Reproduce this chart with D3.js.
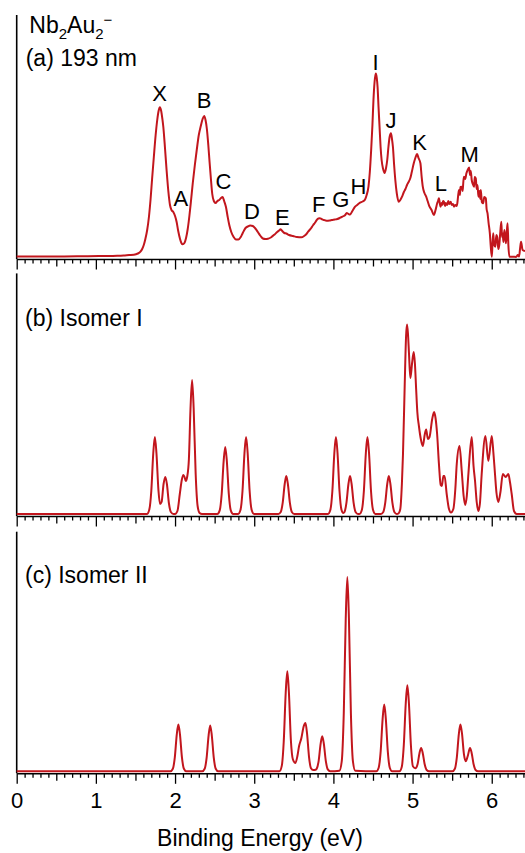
<!DOCTYPE html>
<html>
<head>
<meta charset="utf-8">
<script src="https://cdn.jsdelivr.net/npm/d3@7"></script>
<style>
  html, body { margin: 0; padding: 0; background: #fff; }
  svg { display: block; font-family: "Liberation Sans", Arial, Helvetica, sans-serif; }
  .domain { stroke: #000; stroke-width: 1.6; }
  .tick line { stroke: #000; stroke-width: 1.3; }
  .tick text { font-size: 22px; fill: #000; }
</style>
</head>
<body>
<div id="chart"></div>
<script>
// ===== Config =====
const WIDTH = 525, HEIGHT = 853;
const RED = "#c2161d";

// ===== Data (binding energy eV, intensity arb. units) =====
// (a) measured photoelectron spectrum, 193 nm
const expt = [
  [0,0.4],[0.3,0.4],[0.6,0.6],[0.9,0.8],[1.1,1],[1.27,1.3],[1.35,1.6],[1.42,2],[1.48,2.3],[1.53,3.5],
  [1.563,5.3],[1.585,8],[1.605,12],[1.625,18],[1.648,27],[1.67,40],[1.69,57],[1.71,78],[1.732,100],
  [1.755,122],[1.775,137],[1.792,146],[1.809,149.7],[1.825,146],[1.84,138],[1.852,130],[1.872,110],
  [1.893,87],[1.915,66],[1.936,52],[1.955,47],[1.978,45],[2.0,41],[2.02,35],[2.04,26],[2.063,18],
  [2.08,14],[2.097,12.7],[2.118,14],[2.139,19],[2.16,28],[2.181,41],[2.2,55],[2.224,74],[2.25,92],
  [2.274,107],[2.3,122],[2.325,131],[2.348,138],[2.368,141],[2.385,137],[2.402,128],[2.42,112],
  [2.436,95],[2.453,78],[2.47,63],[2.49,56],[2.512,54],[2.535,56],[2.558,57],[2.58,59],[2.601,60],
  [2.62,56],[2.643,50],[2.665,40],[2.685,32],[2.71,25],[2.74,20],[2.77,17.5],[2.8,17.5],[2.83,20],
  [2.855,24],[2.89,29],[2.918,30.5],[2.95,31.5],[2.982,31],[3.01,29],[3.046,25],[3.08,21],[3.109,18.5],
  [3.14,18],[3.173,18.3],[3.21,19.5],[3.257,22.5],[3.29,25],[3.315,26.5],[3.333,27.7],[3.36,25.5],
  [3.38,24],[3.405,23.5],[3.44,22],[3.49,21],[3.54,20],[3.596,19.7],[3.63,21],[3.66,23],[3.681,25.3],
  [3.72,29],[3.745,32],[3.765,34],[3.79,37],[3.81,38.5],[3.829,38.7],[3.85,38],[3.88,37],[3.914,36.3],
  [3.95,36.5],[3.98,37],[4.019,37.5],[4.05,38],[4.08,39],[4.104,40],[4.13,41],[4.15,42],[4.168,44],
  [4.19,43],[4.21,42.5],[4.24,46],[4.274,50.3],[4.3,52],[4.337,54.3],[4.37,55.5],[4.4,57.5],[4.42,62],
  [4.443,70.3],[4.46,85],[4.477,107],[4.493,132],[4.506,157],[4.52,175],[4.535,183.5],[4.548,179],
  [4.558,170],[4.57,150],[4.583,130],[4.596,110],[4.609,97],[4.628,88],[4.647,84],[4.665,89],[4.68,97],
  [4.695,110],[4.71,120],[4.727,123.7],[4.74,118],[4.752,110],[4.767,92],[4.782,77],[4.8,64],
  [4.824,55.3],[4.845,57],[4.867,60.3],[4.89,65],[4.91,68],[4.93,72],[4.95,75],[4.972,79],[4.99,85],
  [5.015,93.7],[5.035,99],[5.057,103],[5.075,99],[5.099,93.7],[5.115,80],[5.129,70.3],[5.15,64],
  [5.172,60.3],[5.19,56],[5.214,50.3],[5.24,47],[5.269,42],[5.29,47],[5.311,53.7],[5.322,56],
  [5.333,58.7],[5.345,53],[5.354,50.3],[5.365,54],[5.375,52],[5.385,56],[5.396,55.3],[5.41,51],
  [5.42,54],[5.438,52],[5.45,56],[5.465,53],[5.481,55.3],[5.495,52],[5.51,53],[5.523,50.3],[5.54,52],
  [5.555,51],[5.565,53.7],[5.578,63],[5.587,67],[5.598,62],[5.605,70],[5.62,70.3],[5.632,66],
  [5.642,76],[5.65,80.3],[5.665,78],[5.68,83.7],[5.695,87],[5.714,89.5],[5.725,82],[5.735,86],
  [5.747,77],[5.76,73],[5.777,70.3],[5.785,80],[5.798,78.7],[5.81,68],[5.82,72],[5.832,60.3],
  [5.845,66],[5.855,58],[5.862,67],[5.875,55],[5.892,53.7],[5.905,60],[5.925,58.7],[5.935,48],
  [5.947,43.7],[5.96,34],[5.976,23.7],[5.988,10],[6.001,0.3],[6.01,14],[6.019,23.7],[6.03,12],
  [6.045,10.3],[6.058,22],[6.07,19.7],[6.082,8],[6.095,12],[6.108,25],[6.121,35.3],[6.13,20],
  [6.137,23.7],[6.148,15],[6.159,27],[6.17,20],[6.18,13.7],[6.19,25],[6.2,33.7],[6.21,12],
  [6.223,0.3],[6.264,0.3],[6.307,0],[6.33,2],[6.345,0.5],[6.358,8.7],[6.37,15.3],[6.39,7],[6.42,6]
];

// (b) simulated spectrum, isomer I
const isomer1 = [
  [0,0],[1.645,0],[1.675,4.5],[1.70,23],[1.725,61],[1.745,77],[1.765,61],[1.79,24],[1.81,10],[1.83,12],
  [1.855,30],[1.877,37],[1.897,30],[1.922,11],[1.947,2],[1.98,0],
  [2.0,0],[2.03,3],[2.06,20],[2.085,34],[2.105,39],[2.12,37],[2.135,33],[2.155,38],[2.175,55],
  [2.195,105],[2.215,134],[2.235,106],[2.26,41],[2.285,8],[2.31,1],[2.34,0],
  [2.534,0],[2.564,3.6],[2.589,20],[2.614,53],[2.634,67],[2.654,53],[2.679,20],[2.704,3.6],[2.734,0],
  [2.797,0],[2.827,4.2],[2.852,23],[2.877,61],[2.897,77],[2.917,61],[2.942,23],[2.967,4.2],[2.997,0],
  [3.305,0],[3.335,2],[3.36,11.4],[3.385,30],[3.405,38],[3.425,30],[3.45,11.4],[3.475,2],[3.505,0],
  [3.932,0],[3.962,4.2],[3.987,23],[4.012,61],[4.032,77],[4.052,61],[4.077,23],[4.102,4.2],[4.125,1],
  [4.14,2],[4.165,11.4],[4.19,30],[4.21,38],[4.23,30],[4.255,11.4],[4.28,2],[4.31,0],
  [4.33,0],[4.36,4.2],[4.385,23],[4.41,61],[4.43,77],[4.45,61],[4.475,23],[4.50,4.2],[4.53,0],
  [4.60,0],[4.63,2],[4.655,11.4],[4.68,30],[4.70,38],[4.72,30],[4.745,11.4],[4.77,2],[4.80,0],
  [4.825,0.8],[4.845,5],[4.865,30],[4.879,60],[4.901,130],[4.918,178],[4.93,189.5],[4.942,180],
  [4.955,160],[4.972,136],[4.994,151],[5.015,162],[5.03,150],[5.045,125],[5.06,102],[5.08,88],
  [5.104,75],[5.129,68],[5.155,80],[5.172,84.5],[5.193,75],[5.214,77],[5.248,95],[5.272,102],
  [5.29,96],[5.31,80],[5.333,50],[5.355,29],[5.37,28],[5.389,38],[5.404,38],[5.431,20],[5.46,5],
  [5.485,1.5],[5.515,5],[5.54,25],[5.558,50],[5.593,68],[5.621,43],[5.645,18],[5.665,9],[5.685,18],
  [5.705,40],[5.747,77],[5.77,48],[5.789,33],[5.81,12],[5.831,3],[5.85,10],[5.873,40],[5.92,78],
  [5.957,53],[6.0,78],[6.02,62],[6.041,40],[6.06,21],[6.083,12],[6.11,22],[6.14,40],[6.176,37],
  [6.21,40],[6.23,32],[6.252,20],[6.281,3],[6.315,0],[6.42,0]
];

// (c) simulated spectrum, isomer II
const isomer2 = [
  [0,0],[1.942,0],[1.972,2.5],[1.997,14],[2.022,37],[2.042,46.7],[2.062,37],[2.087,14],[2.112,2.5],[2.142,0],
  [2.344,0],[2.374,2.5],[2.399,13.7],[2.424,36],[2.444,45.7],[2.464,36],[2.489,13.7],[2.514,2.5],[2.544,0],
  [3.318,0],[3.348,5.4],[3.373,30],[3.398,79],[3.418,100],[3.438,79],[3.463,31],[3.488,12],[3.52,8.3],
  [3.545,15],[3.566,25],[3.595,33],[3.625,45],[3.647,48.3],[3.667,38],[3.692,14.5],[3.717,3],[3.745,1.2],
  [3.775,1.5],[3.789,2.5],[3.814,10.5],[3.839,27.7],[3.859,35],[3.879,27.7],[3.904,10.5],[3.929,1.9],[3.96,0],
  [4.076,0.6],[4.106,10.5],[4.131,58],[4.156,153],[4.176,194.3],[4.196,153],[4.221,58],[4.246,10.5],[4.276,0.6],
  [4.542,0],[4.572,3.6],[4.597,20],[4.622,52.7],[4.642,66.7],[4.662,52.7],[4.687,20],[4.712,3.6],[4.742,0],
  [4.834,0],[4.864,4.6],[4.889,26],[4.914,68],[4.934,86],[4.954,68],[4.979,26],[5.004,5],[5.036,3],
  [5.063,7],[5.088,18.4],[5.108,23.3],[5.128,18.4],[5.153,7],[5.178,1.3],[5.208,0],
  [5.504,0],[5.534,2.5],[5.559,14],[5.584,37],[5.604,46.7],[5.624,38],[5.649,17],[5.672,10],[5.696,15],
  [5.726,23.3],[5.746,18.4],[5.771,7],[5.796,1.3],[5.826,0],[6.42,0]
];

// Peak labels in panel (a): [label, eV, level]
const peakLabels = [
  ["X",1.806,155.7],["A",2.073,50.9],["B",2.368,149],["C",2.61,67.7],["D",2.97,38.5],
  ["E",3.354,32.5],["F",3.815,45.2],["G",4.094,50.2],["H",4.315,62.9],["I",4.533,187.5],
  ["J",4.728,128.9],["K",5.088,107.1],["L",5.358,66],["M",5.722,95.4]
];

const panelTitles = ["(a) 193 nm", "(b) Isomer I", "(c) Isomer II"];
const majorTicks = [0, 1, 2, 3, 4, 5, 6];
const halfTicks = [0.5, 1.5, 2.5, 3.5, 4.5, 5.5];
const xTitle = "Binding Energy (eV)";

// ===== Layout =====
const panels = [
  { data: expt,    top: 15,    axisY: 259,   titleY: 66.3 },
  { data: isomer1, top: 273.4, axisY: 516,   titleY: 326.3 },
  { data: isomer2, top: 531.7, axisY: 773.3, titleY: 582.6 }
];

const x = d3.scaleLinear().domain([0, 6.42]).range([16.7, 525]);
const minorTicks = d3.range(0, 65).map(i => i / 10).filter(v => Math.round(v * 10) % 5 !== 0);

const svg = d3.select("#chart").append("svg")
  .attr("width", WIDTH).attr("height", HEIGHT)
  .attr("viewBox", `0 0 ${WIDTH} ${HEIGHT}`);

panels.forEach((p, i) => {
  const g = svg.append("g").attr("class", "panel");
  const zero = p.axisY - 2;
  const y = d3.scaleLinear().domain([0, 240]).range([zero, zero - 240]);

  // left axis line
  g.append("line")
    .attr("x1", x(0)).attr("x2", x(0))
    .attr("y1", p.top).attr("y2", p.axisY)
    .attr("stroke", "#000").attr("stroke-width", 1.6);

  // spectrum
  const line = d3.line()
    .x(d => x(d[0])).y(d => y(d[1]))
    .curve(d3.curveMonotoneX);
  g.append("path")
    .datum(p.data)
    .attr("fill", "none")
    .attr("stroke", RED)
    .attr("stroke-width", 2)
    .attr("stroke-linejoin", "round")
    .attr("d", line);

  // x axis: minor, half and major ticks
  const axG = g.append("g").attr("transform", `translate(0,${p.axisY})`);
  axG.append("g").call(d3.axisBottom(x).tickValues(minorTicks).tickSize(4.5).tickSizeOuter(0).tickFormat(""));
  axG.append("g").call(d3.axisBottom(x).tickValues(halfTicks).tickSize(7.5).tickSizeOuter(0).tickFormat(""));
  const major = d3.axisBottom(x).tickValues(majorTicks).tickSize(10.5).tickSizeOuter(0)
    .tickPadding(9).tickFormat(i === 2 ? d3.format("d") : "");
  axG.append("g").call(major);
  axG.selectAll(".domain").filter((d, k) => k > 0).remove();

  // panel title
  g.append("text")
    .attr("x", i === 0 ? 25.7 : 25).attr("y", p.titleY)
    .attr("font-size", 23)
    .text(panelTitles[i]);

  if (i === 0) {
    // molecule label Nb2Au2-
    const t = g.append("text").attr("x", 29.3).attr("y", 33.3).attr("font-size", 23);
    t.append("tspan").text("Nb");
    t.append("tspan").attr("font-size", 15).attr("dy", 6).text("2");
    t.append("tspan").attr("dy", -6).text("Au");
    t.append("tspan").attr("font-size", 15).attr("dy", 6).text("2");
    t.append("tspan").attr("font-size", 15).attr("dy", -14).text("\u2212");

    g.selectAll("text.peak").data(peakLabels).join("text")
      .attr("class", "peak")
      .attr("x", d => x(d[1])).attr("y", d => y(d[2]))
      .attr("text-anchor", "middle")
      .attr("font-size", 22)
      .text(d => d[0]);
  }
});

// x axis title
svg.append("text")
  .attr("x", 260).attr("y", 846.4)
  .attr("text-anchor", "middle")
  .attr("font-size", 23)
  .text(xTitle);
</script>
</body>
</html>
